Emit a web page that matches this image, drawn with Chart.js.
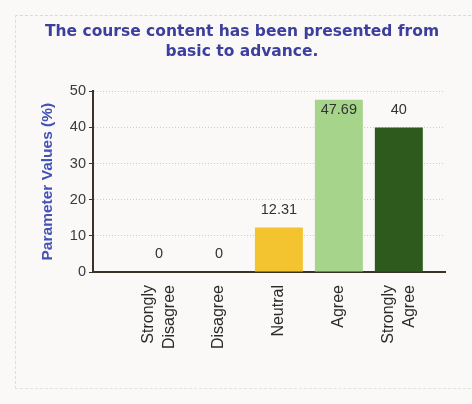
<!DOCTYPE html>
<html>
<head>
<meta charset="utf-8">
<script src="https://cdn.jsdelivr.net/npm/chart.js@4/dist/chart.umd.min.js"></script>
<style>
html,body{margin:0;padding:0;background:#fbf9f7;}
#wrap{position:relative;width:472px;height:404px;}
#frame{position:absolute;left:15px;top:15px;width:470px;height:372px;border-top:1px dashed #ddd8d4;border-left:1px dashed #e2ddd9;border-bottom:1px dashed #e6e1dd;}
canvas{position:absolute;left:0;top:0;}
</style>
</head>
<body>
<div id="wrap"><div id="frame"></div><canvas id="c" width="472" height="404"></canvas></div>
<script>
const categories = [["Strongly","Disagree"],["Disagree"],["Neutral"],["Agree"],["Strongly","Agree"]];
const values = [0, 0, 12.31, 47.69, 40];
const valueLabels = ["0", "0", "12.31", "47.69", "40"];
const barColors = ["#f4c330", "#f4c330", "#f4c330", "#a7d48b", "#2e5a1e"];
const yTicks = [0, 10, 20, 30, 40, 50];

const points = values.map((v, i) => ({x: i, y: v}));
const X_LINE_HEIGHT = 16 * 1.3;

const valueLabelPlugin = {
  id: 'valueLabels',
  afterDatasetsDraw(chart) {
    const ctx = chart.ctx;
    const meta = chart.getDatasetMeta(0);
    ctx.save();
    ctx.font = '14.5px "Liberation Sans", Arial, sans-serif';
    ctx.fillStyle = '#333';
    ctx.textAlign = 'center';
    ctx.textBaseline = 'middle';
    meta.data.forEach((bar, i) => {
      let y = bar.y - 18;
      y = Math.max(y, chart.chartArea.top + 19);
      ctx.fillText(valueLabels[i], bar.x, y);
    });
    ctx.restore();
  }
};

function isMultiLine(ctx) {
  const lab = categories[ctx.tick ? ctx.tick.value : -1];
  return Array.isArray(lab) && lab.length > 1;
}

new Chart(document.getElementById('c'), {
  type: 'bar',
  data: {
    datasets: [{
      data: points,
      backgroundColor: barColors,
      borderWidth: 0,
      categoryPercentage: 1,
      barPercentage: 0.8
    }]
  },
  plugins: [valueLabelPlugin],
  options: {
    responsive: false,
    animation: false,
    layout: {padding: {left: 20, right: 8, top: 20, bottom: 6}},
    plugins: {
      legend: {display: false},
      tooltip: {enabled: false},
      title: {
        display: true,
        text: ["The course content has been presented from", "basic to advance."],
        color: '#3c3f9e',
        font: {family: '"DejaVu Sans", Verdana, sans-serif', size: 15.5, weight: 'bold', lineHeight: 1.3},
        padding: {top: 2, bottom: 29}
      }
    },
    scales: {
      x: {
        type: 'linear',
        offset: false,
        min: -1.1,
        max: 4.77,
        afterFit: s => { s.height = 126; },
        afterBuildTicks: s => { s.ticks = s.ticks.filter(t => t.value >= 0 && t.value <= 4 && Number.isInteger(t.value)); },
        ticks: {
          stepSize: 1,
          includeBounds: false,
          autoSkip: false,
          minRotation: 90,
          maxRotation: 90,
          padding: 13,
          labelOffset: -X_LINE_HEIGHT / 2,
          showLabelBackdrop: ctx => !isMultiLine(ctx),
          backdropColor: 'rgba(0,0,0,0)',
          backdropPadding: 0,
          color: '#2a2a2a',
          font: {family: '"Liberation Sans", Arial, sans-serif', size: 16, lineHeight: 1.3},
          callback: v => categories[v] || ''
        },
        grid: {display: false, drawTicks: false},
        border: {display: true, color: '#3a3326', width: 2}
      },
      y: {
        min: 0,
        max: 50,
        afterFit: s => { s.width = 73; },
        afterBuildTicks: s => { s.ticks = yTicks.map(v => ({value: v})); },
        ticks: {
          color: '#3a3a3a',
          padding: 3,
          font: {family: '"Liberation Sans", Arial, sans-serif', size: 14.5}
        },
        grid: {
          color: '#cfcac6',
          tickColor: '#3a3326',
          tickLength: 4,
          tickBorderDash: [],
          drawTicks: true
        },
        border: {display: true, color: '#3a3326', width: 2, dash: [1, 2]},
        title: {
          display: true,
          text: 'Parameter Values (%)',
          color: '#4352b6',
          font: {family: '"Liberation Sans", Arial, sans-serif', size: 15.5, weight: 'bold'},
          padding: {top: 18, bottom: 0}
        }
      },
      yR: {
        position: 'right',
        display: true,
        afterFit: s => { s.width = 19; },
        ticks: {display: false},
        grid: {display: false, drawOnChartArea: false},
        border: {display: false}
      }
    }
  }
});
</script>
</body>
</html>
